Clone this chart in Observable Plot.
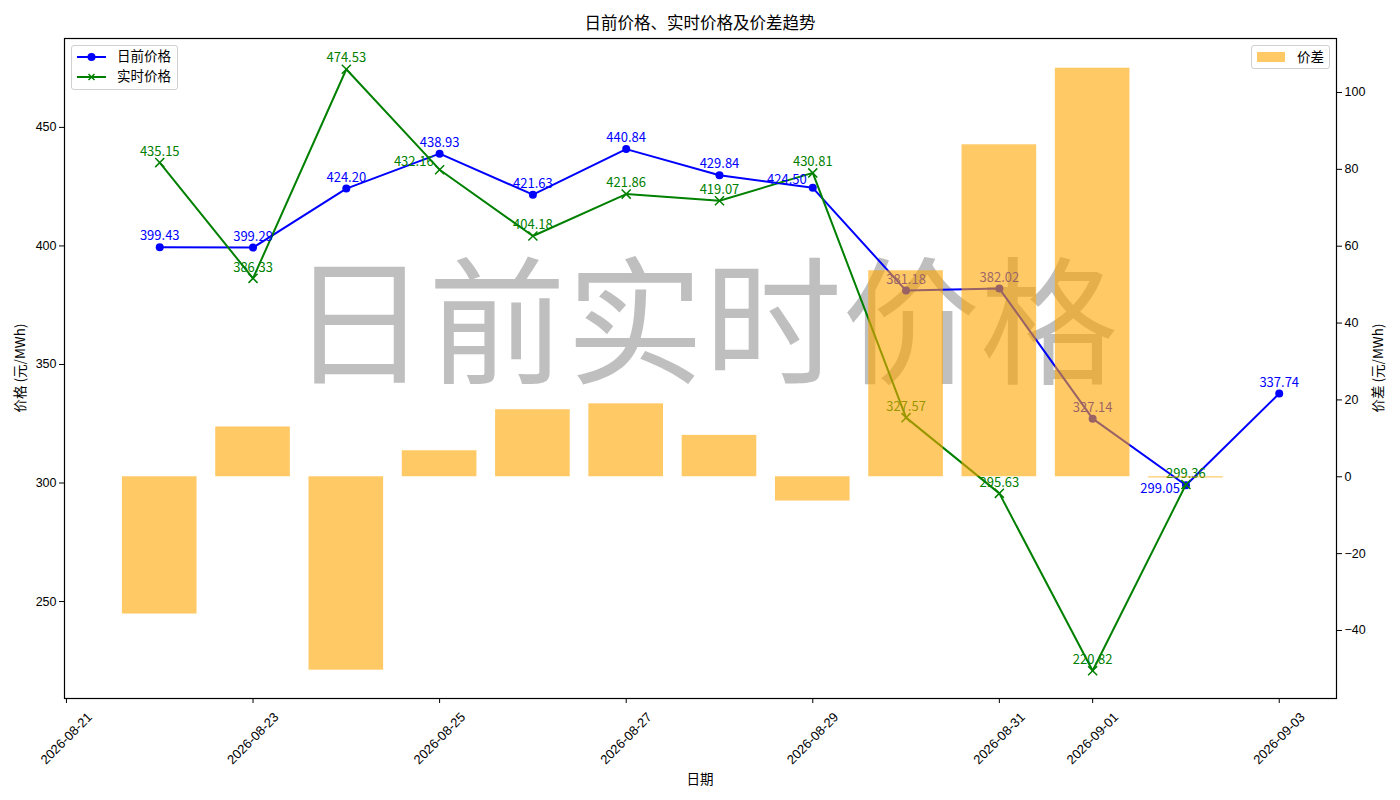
<!DOCTYPE html>
<html><head><meta charset="utf-8">
<script src="https://cdn.jsdelivr.net/npm/d3@7"></script>
<script src="https://cdn.jsdelivr.net/npm/@observablehq/plot@0.6"></script>
<style>
body{margin:0;background:#fff;}
#wrap{position:relative;width:1400px;height:800px;font-family:"Noto Sans CJK SC",sans-serif;color:#000;overflow:hidden;}
#wrap > svg{position:absolute;left:0;top:0;}
.t{position:absolute;white-space:nowrap;line-height:1;}
.legend{position:absolute;background:rgba(255,255,255,0.8);border:1px solid #d0d0d0;border-radius:3px;box-sizing:border-box;}
.legend .row{position:absolute;font-size:13.5px;line-height:1;white-space:nowrap;}
</style></head><body><div id="wrap"></div>
<script>
// ---- data ----
const dates = ["2026-08-22","2026-08-23","2026-08-24","2026-08-25","2026-08-26","2026-08-27","2026-08-28","2026-08-29","2026-08-30","2026-08-31","2026-09-01","2026-09-02","2026-09-03"];
const dayAhead = [399.43,399.29,424.20,438.93,421.63,440.84,429.84,424.50,381.18,382.02,327.14,299.05,337.74];
const realTime = [435.15,386.33,474.53,432.16,404.18,421.86,419.07,430.81,327.57,295.63,220.82,299.36,null];
const spread   = [-35.72,12.96,-50.33,6.77,17.45,18.98,10.77,-6.31,53.61,86.39,106.32,-0.31,null];
const xTickLabels = ["2026-08-21","2026-08-23","2026-08-25","2026-08-27","2026-08-29","2026-08-31","2026-09-01","2026-09-03"];
const leftTicks = [250,300,350,400,450];
const rightTicks = [-40,-20,0,20,40,60,80,100];
const titleText = "日前价格、实时价格及价差趋势";
const xLabel = "日期";
const yLabelLeft = "价格 (元/MWh)";
const yLabelRight = "价差 (元/MWh)";
const seriesNames = ["日前价格","实时价格","价差"];
const watermark = "日前实时价格";

// ---- build ----
const parse = d3.utcParse("%Y-%m-%d");
const rows = dates.map((d,i)=>({date:parse(d), da:dayAhead[i], rt:realTime[i], sp:spread[i]}));
const rtRows = rows.filter(d=>d.rt!=null);
const spRows = rows.filter(d=>d.sp!=null);
const xTicks = xTickLabels.map(parse);

const W=1400,H=800;
const M={marginTop:38,marginRight:64,marginBottom:102,marginLeft:64};
const xDomain=[new Date("2026-08-20T23:30:00Z"), new Date("2026-09-03T14:44:00Z")];
const fmt2 = d3.format(".2f");
const labelFont = "Noto Sans CJK SC";

// label placement rule: when the two prices are close, the lower one's label goes to the left
function closeLow(d, key){
  if (d.rt==null) return false;
  const diff = d.da - d.rt;
  if (Math.abs(diff) >= 10) return false;
  return key==="da" ? diff<0 || Math.abs(diff)<1 : diff>0 && Math.abs(diff)>=1;
}
const daTop = rows.filter(d=>!closeLow(d,"da"));
const daLeft = rows.filter(d=>closeLow(d,"da") && Math.abs(d.da-d.rt)>=1);
const daLeftBelow = rows.filter(d=>closeLow(d,"da") && Math.abs(d.da-d.rt)<1);
const rtTop = rtRows.filter(d=>!closeLow(d,"rt"));
const rtLeft = rtRows.filter(d=>closeLow(d,"rt"));

const common = {width:W,height:H,...M,
  style:{background:"transparent",overflow:"visible",fontFamily:"'Liberation Sans',sans-serif",fontSize:"12.5px",color:"#000"}};

const plotA = Plot.plot({
  ...common,
  x:{type:"utc",domain:xDomain},
  y:{domain:[209.1,487.5]},
  marks:[
    Plot.axisY({anchor:"left",ticks:leftTicks,tickSize:5,label:null,tickPadding:3}),
    Plot.axisX({anchor:"bottom",ticks:xTicks,tickFormat:()=>"",tickSize:5,label:null}),
    Plot.text(xTicks,{x:d=>d,text:d3.utcFormat("%Y-%m-%d"),frameAnchor:"bottom",rotate:-45,textAnchor:"middle",lineAnchor:"middle",dy:40,fontSize:13}),
    Plot.line(rows,{x:"date",y:"da",stroke:"blue",strokeWidth:2}),
    Plot.dot(rows,{x:"date",y:"da",fill:"blue",r:4}),
    Plot.line(rtRows,{x:"date",y:"rt",stroke:"green",strokeWidth:2}),
    Plot.dot(rtRows,{x:"date",y:"rt",symbol:"times",stroke:"green",strokeWidth:1.5,r:4.2}),
    Plot.text(daTop,{x:"date",y:"da",text:d=>fmt2(d.da),fill:"blue",dy:-11,fontSize:13,fontFamily:labelFont}),
    Plot.text(daLeft,{x:"date",y:"da",text:d=>fmt2(d.da),fill:"blue",dy:-8,dx:-6,textAnchor:"end",fontSize:13,fontFamily:labelFont}),
    Plot.text(daLeftBelow,{x:"date",y:"da",text:d=>fmt2(d.da),fill:"blue",dy:4,dx:-6,textAnchor:"end",fontSize:13,fontFamily:labelFont}),
    Plot.text(rtTop,{x:"date",y:"rt",text:d=>fmt2(d.rt),fill:"green",dy:-11,fontSize:13,fontFamily:labelFont}),
    Plot.text(rtLeft,{x:"date",y:"rt",text:d=>fmt2(d.rt),fill:"green",dy:-8,dx:-6,textAnchor:"end",fontSize:13,fontFamily:labelFont}),
    Plot.frame({stroke:"#000",strokeWidth:1.2})
  ]
});

const half = 9.6*3600*1000;
const plotB = Plot.plot({
  ...common,
  x:{type:"utc",domain:xDomain,axis:null},
  y:{domain:[-57.7,114.05]},
  marks:[
    Plot.rectY(spRows,{x1:d=>new Date(+d.date-half),x2:d=>new Date(+d.date+half),y1:0,y2:"sp",fill:"orange",fillOpacity:0.6}),
    Plot.axisY({anchor:"right",ticks:rightTicks,tickSize:5,label:null,tickPadding:3})
  ]
});

const wrap = document.getElementById("wrap");
function addText(txt, css){ const e=document.createElement("div"); e.className="t"; e.textContent=txt; Object.assign(e.style,css); wrap.appendChild(e); return e; }

// watermark under everything
addText(watermark,{left:"704px",top:"313px",transform:"translate(-50%,-50%)",fontSize:"138px",color:"#bfbfbf",zIndex:0});
plotA.style.zIndex=1; wrap.appendChild(plotA);
plotB.style.zIndex=2; plotB.style.pointerEvents="none"; wrap.appendChild(plotB);

addText(titleText,{left:"700px",top:"22px",transform:"translate(-50%,-50%)",fontSize:"16.5px",zIndex:3});
addText(xLabel,{left:"700px",top:"779px",transform:"translate(-50%,-50%)",fontSize:"13.5px",zIndex:3});
addText(yLabelLeft,{left:"20px",top:"368px",transform:"translate(-50%,-50%) rotate(-90deg)",fontSize:"13.5px",zIndex:3});
addText(yLabelRight,{left:"1378px",top:"368px",transform:"translate(-50%,-50%) rotate(-90deg)",fontSize:"13.5px",zIndex:3});

// legends
const lg1=document.createElement("div"); lg1.className="legend";
Object.assign(lg1.style,{left:"71px",top:"45px",width:"107px",height:"45px",zIndex:4});
lg1.innerHTML =
 `<svg width="40" height="45" style="position:absolute;left:0;top:0">
   <line x1="5" x2="34" y1="11" y2="11" stroke="blue" stroke-width="2"/><circle cx="19.5" cy="11" r="4" fill="blue"/>
   <line x1="5" x2="34" y1="31" y2="31" stroke="green" stroke-width="2"/>
   <path d="M16.5,28 L22.5,34 M16.5,34 L22.5,28" stroke="green" stroke-width="1.5"/>
  </svg>
  <div class="row" style="left:45px;top:3px">${seriesNames[0]}</div>
  <div class="row" style="left:45px;top:23px">${seriesNames[1]}</div>`;
wrap.appendChild(lg1);
const lg2=document.createElement("div"); lg2.className="legend";
Object.assign(lg2.style,{left:"1251px",top:"45px",width:"79px",height:"24px",zIndex:4});
lg2.innerHTML =
 `<svg width="40" height="24" style="position:absolute;left:0;top:0">
   <rect x="5" y="6" width="28" height="10" fill="orange" fill-opacity="0.6"/></svg>
  <div class="row" style="left:45px;top:4px">${seriesNames[2]}</div>`;
wrap.appendChild(lg2);
</script></body></html>
